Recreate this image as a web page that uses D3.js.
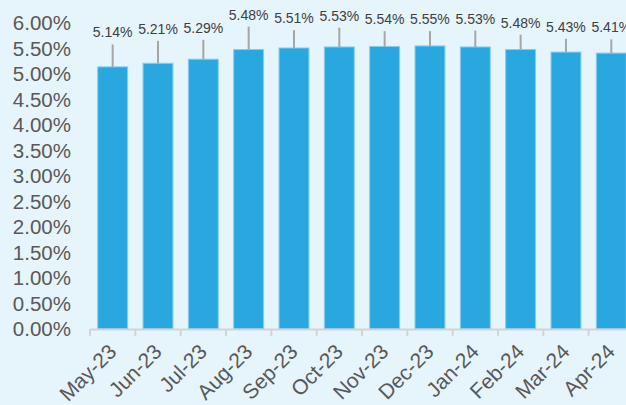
<!DOCTYPE html>
<html>
<head>
<meta charset="utf-8">
<script src="https://cdn.jsdelivr.net/npm/d3@7"></script>
<style>
  html, body { margin: 0; padding: 0; background: #e6f4fb; overflow: hidden; }
</style>
</head>
<body>
<div id="canvas"></div>
<script>
"use strict"

// DATA
let months = ["May-23", "Jun-23", "Jul-23", "Aug-23", "Sep-23", "Oct-23",
              "Nov-23", "Dec-23", "Jan-24", "Feb-24", "Mar-24", "Apr-24"];
let rates = [5.14, 5.21, 5.29, 5.48, 5.51, 5.53, 5.54, 5.55, 5.53, 5.48, 5.43, 5.41];
let errors = [0.44, 0.44, 0.38, 0.45, 0.35, 0.38, 0.30, 0.29, 0.32, 0.29, 0.26, 0.27];
let yTicks = [0, 0.5, 1, 1.5, 2, 2.5, 3, 3.5, 4, 4.5, 5, 5.5, 6];

// drawing config
let svgWidth = 626;
let svgHeight = 405;
let marginLeft = 90;
let baseY = 329;
let topY = 23;

let svg = d3.select("#canvas")
  .append("svg")
  .attr("width", svgWidth)
  .attr("height", svgHeight);

svg.append("rect")
  .attr("width", svgWidth)
  .attr("height", svgHeight)
  .attr("fill", "#e6f4fb");

// SCALES
let step = 45.33;
let xScale = d3.scaleBand()
  .domain(months)
  .range([marginLeft, marginLeft + step * months.length])
  .paddingInner(0.34)
  .paddingOuter(0.17);

let yScale = d3.scaleLinear()
  .domain([0, 6])
  .range([baseY, topY]);

// bars
svg.selectAll("rect.bar")
  .data(rates)
  .join("rect")
  .attr("class", "bar")
  .attr("x", (d, i) => xScale(months[i]))
  .attr("y", d => yScale(d))
  .attr("width", xScale.bandwidth())
  .attr("height", d => baseY - yScale(d))
  .attr("fill", "#29a8e0")
  .attr("stroke", "#86cdef")
  .attr("stroke-width", 1);

// error bars (upper only)
svg.selectAll("line.err")
  .data(rates)
  .join("line")
  .attr("class", "err")
  .attr("x1", (d, i) => xScale(months[i]) + xScale.bandwidth() / 2)
  .attr("x2", (d, i) => xScale(months[i]) + xScale.bandwidth() / 2)
  .attr("y1", d => yScale(d))
  .attr("y2", (d, i) => yScale(d + errors[i]))
  .attr("stroke", "#a6a6a6")
  .attr("stroke-width", 2);

// data labels
svg.selectAll("text.val")
  .data(rates)
  .join("text")
  .attr("class", "val")
  .attr("x", (d, i) => xScale(months[i]) + xScale.bandwidth() / 2)
  .attr("y", (d, i) => yScale(d + errors[i]) - 7)
  .attr("text-anchor", "middle")
  .style("font-family", "Liberation Sans, Arial, sans-serif")
  .style("font-size", "14px")
  .attr("fill", "#404040")
  .text(d => d.toFixed(2) + "%");

// X AXIS
svg.append("line")
  .attr("x1", marginLeft)
  .attr("x2", svgWidth)
  .attr("y1", baseY + 0.5)
  .attr("y2", baseY + 0.5)
  .attr("stroke", "#d4d4d4")
  .attr("stroke-width", 2);

let tickXs = months.map(m => xScale(m) - xScale.step() * xScale.paddingInner() / 2);
svg.selectAll("line.tick")
  .data(tickXs)
  .join("line")
  .attr("class", "tick")
  .attr("x1", d => d)
  .attr("x2", d => d)
  .attr("y1", baseY)
  .attr("y2", baseY + 7)
  .attr("stroke", "#d4d4d4")
  .attr("stroke-width", 2);

svg.selectAll("text.xlab")
  .data(months)
  .join("text")
  .attr("class", "xlab")
  .attr("text-anchor", "end")
  .attr("transform", d => "translate(" + (xScale(d) + xScale.bandwidth() / 2 + 5) + "," + (baseY + 24) + ") rotate(-45)")
  .style("font-family", "Liberation Sans, Arial, sans-serif")
  .style("font-size", "21px")
  .attr("fill", "#595959")
  .text(d => d);

// Y AXIS labels
svg.selectAll("text.ylab")
  .data(yTicks)
  .join("text")
  .attr("class", "ylab")
  .attr("x", 71)
  .attr("y", d => yScale(d))
  .attr("dy", "0.35em")
  .attr("text-anchor", "end")
  .style("font-family", "Liberation Sans, Arial, sans-serif")
  .style("font-size", "20.5px")
  .attr("fill", "#595959")
  .text(d => d.toFixed(2) + "%");
</script>
</body>
</html>
